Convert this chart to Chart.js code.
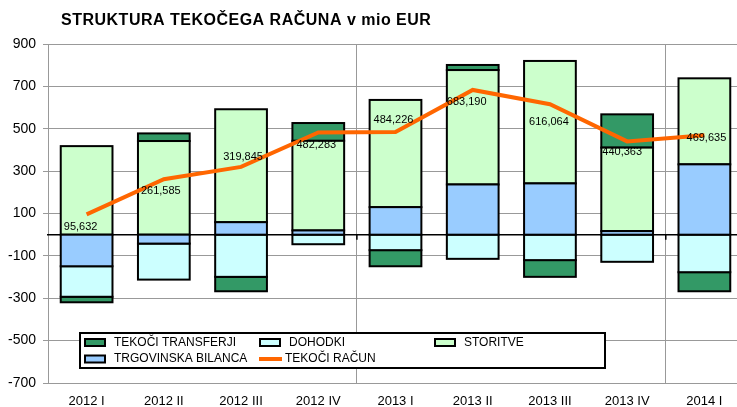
<!DOCTYPE html>
<html>
<head>
<meta charset="utf-8">
<script src="https://cdn.jsdelivr.net/npm/chart.js@4"></script>
<style>
  html, body { margin: 0; padding: 0; background: #fff; overflow: hidden; }
  canvas { display: block; }
</style>
</head>
<body>
<canvas id="chart" width="745" height="407"></canvas>
<script>
const quarters = ['2012 I', '2012 II', '2012 III', '2012 IV', '2013 I', '2013 II', '2013 III', '2013 IV', '2014 I'];
const trgovinska = [-149, -42, 59, 20, 130, 237, 242, 17, 332];
const dohodki = [-144, -170, -199, -45, -73, -114, -120, -128, -177];
const storitve = [418, 442, 533, 423, 506, 540, 578, 394, 406];
const transferji = [-26, 36, -68, 84, -76, 24, -79, 157, -90];
const tekociRacun = [95.632, 261.585, 319.845, 482.283, 484.226, 683.190, 616.064, 440.363, 469.635];

// where the value labels sit relative to each line point (dx, dy in px)
const labelOffsets = [[-6, 13], [-3, 12], [2, -10], [-2, 12], [-2, -12], [-6, 12], [-1, 18], [-5, 11], [2, 3]];

Chart.defaults.font.family = "'Liberation Sans', Arial, sans-serif";
Chart.defaults.color = '#000';

const decor = {
    id: 'decor',
    beforeDatasetsDraw(chart) {
        const c = chart.ctx, a = chart.chartArea;
        const y0 = chart.scales.y.getPixelForValue(0);
        c.save();
        c.strokeStyle = '#000';
        c.lineWidth = 1.5;
        c.beginPath();
        c.moveTo(a.left - 1, y0);
        c.lineTo(a.right, y0);
        // little category ticks at the year boundaries
        const w = (a.right - a.left) / quarters.length;
        [4, 8].forEach(i => {
            const x = a.left + i * w;
            c.moveTo(x, y0);
            c.lineTo(x, y0 + 5);
        });
        c.stroke();
        c.restore();
    },
    // outline each bar segment with a centred stroke so shared edges stay thin
    afterDatasetDraw(chart, args) {
        if (args.meta.type !== 'bar') return;
        const c = chart.ctx;
        c.save();
        c.strokeStyle = '#000';
        c.lineWidth = 2;
        args.meta.data.forEach(el => {
            const p = el.getProps(['x', 'y', 'base', 'width'], true);
            if (Math.abs(p.base - p.y) < 0.5) return;
            c.strokeRect(p.x - p.width / 2, Math.min(p.y, p.base), p.width, Math.abs(p.base - p.y));
        });
        c.restore();
    },
    afterDatasetsDraw(chart) {
        const c = chart.ctx, a = chart.chartArea;
        const line = chart.getDatasetMeta(0);
        c.save();
        // value labels
        c.font = "11px 'Liberation Sans', Arial, sans-serif";
        c.fillStyle = '#000';
        c.textAlign = 'center';
        c.textBaseline = 'middle';
        line.data.forEach((pt, i) => {
            const txt = tekociRacun[i].toFixed(3).replace('.', ',');
            c.fillText(txt, pt.x + labelOffsets[i][0], pt.y + labelOffsets[i][1]);
        });

        // legend box
        const bx = a.left + 32, by = 333, bw = 525, bh = 35;
        c.fillStyle = '#fff';
        c.fillRect(bx, by, bw, bh);
        c.strokeStyle = '#000';
        c.lineWidth = 2;
        c.strokeRect(bx, by, bw, bh);

        const ds = chart.data.datasets;
        const items = [ds[4], ds[2], ds[3], ds[1], ds[0]];
        const cols = [bx + 5, bx + 180, bx + 355];
        const rows = [by + 9.5, by + 26];
        c.font = "12px 'Liberation Sans', Arial, sans-serif";
        c.textAlign = 'left';
        items.forEach((d, i) => {
            const x = cols[i % 3], y = rows[Math.floor(i / 3)];
            if (d.type === 'line') {
                c.strokeStyle = d.borderColor;
                c.lineWidth = 4;
                c.beginPath();
                c.moveTo(x - 1, y);
                c.lineTo(x + 22, y);
                c.stroke();
                c.fillStyle = '#000';
                c.fillText(d.label, x + 25, y);
            } else {
                c.fillStyle = d.backgroundColor;
                c.fillRect(x, y - 3.5, 20, 7);
                c.strokeStyle = '#000';
                c.lineWidth = 2;
                c.strokeRect(x, y - 3.5, 20, 7);
                c.fillStyle = '#000';
                c.fillText(d.label, x + 29, y);
            }
        });
        c.restore();
    },
    afterDraw(chart) {
        const c = chart.ctx;
        c.save();
        c.font = "bold 16px 'Liberation Sans', Arial, sans-serif";
        c.letterSpacing = '0.5px';
        c.fillStyle = '#000';
        c.textAlign = 'left';
        c.textBaseline = 'middle';
        c.fillText('STRUKTURA TEKOČEGA RAČUNA v mio EUR', 61, 21);
        c.restore();
    }
};

const ctx = document.getElementById('chart').getContext('2d');
new Chart(ctx, {
    type: 'bar',
    data: {
        labels: quarters,
        datasets: [
            {
                type: 'line',
                label: 'TEKOČI RAČUN',
                data: tekociRacun,
                borderColor: '#FF6600',
                backgroundColor: '#FF6600',
                borderWidth: 4,
                pointRadius: 0,
                tension: 0,
                fill: false,
                stack: 'racun',
                order: 0
            },
            { label: 'TRGOVINSKA BILANCA', data: trgovinska, backgroundColor: '#99CCFF', stack: 's', order: 1 },
            { label: 'DOHODKI', data: dohodki, backgroundColor: '#CCFFFF', stack: 's', order: 1 },
            { label: 'STORITVE', data: storitve, backgroundColor: '#CCFFCC', stack: 's', order: 1 },
            { label: 'TEKOČI TRANSFERJI', data: transferji, backgroundColor: '#339966', stack: 's', order: 1 }
        ]
    },
    options: {
        responsive: false,
        animation: false,
        devicePixelRatio: 1,
        layout: { padding: { top: 44, right: 2, left: 0, bottom: 0 } },
        datasets: {
            bar: {
                barPercentage: 0.67,
                categoryPercentage: 1,
                borderWidth: 0
            }
        },
        plugins: {
            legend: { display: false },
            tooltip: { enabled: false },
            title: { display: false }
        },
        scales: {
            x: {
                stacked: true,
                grid: {
                    offset: true,
                    drawTicks: false,
                    color: c => (c.index === 4 || c.index === 8) ? '#999' : 'rgba(0,0,0,0)'
                },
                border: { display: false },
                ticks: { font: { size: 13 }, padding: 11, maxRotation: 0, autoSkip: false },
                afterFit(s) { s.height = 24; }
            },
            y: {
                stacked: true,
                min: -700,
                max: 900,
                ticks: { stepSize: 200, font: { size: 14 }, padding: 7 },
                grid: { color: '#999', tickLength: 5 },
                border: { color: '#999' },
                afterFit(s) { s.width = 48; }
            }
        }
    },
    plugins: [decor]
});
</script>
</body>
</html>
